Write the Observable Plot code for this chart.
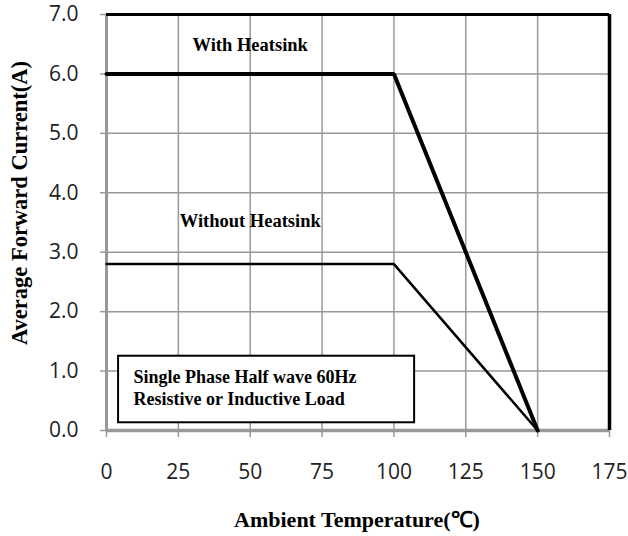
<!DOCTYPE html>
<html><head><meta charset="utf-8">
<script src="https://cdn.jsdelivr.net/npm/d3@7"></script>
<script src="https://cdn.jsdelivr.net/npm/@observablehq/plot@0.6"></script>
<style>
body{margin:0;background:#fff;}
#chart svg{display:block;}
</style>
</head><body><div id="chart"></div>
<script>
const xTicks = [0, 25, 50, 75, 100, 125, 150, 175];
const yTicks = [0, 1, 2, 3, 4, 5, 6, 7];
const withTemp = [0, 100, 150];
const withCurrent = [6.0, 6.0, 0.0];
const withoutTemp = [0, 100, 150];
const withoutCurrent = [2.8, 2.8, 0.0];
const seriesLabels = ["With Heatsink", "Without Heatsink"];
const labelX = [50, 50];
const labelY = [6.48, 3.52];
const noteLines = ["Single Phase Half wave 60Hz", "Resistive or Inductive Load"];
const noteX = [9.4, 9.4];
const noteY = [0.89, 0.53];
const noteBox = [{x1: 4.2, x2: 107.2, y1: 0.13, y2: 1.25}];
const xTitle = "Ambient Temperature(℃)";
const yTitle = "Average Forward Current(A)";

const withData = withTemp.map((t, i) => ({t, c: withCurrent[i]}));
const withoutData = withoutTemp.map((t, i) => ({t, c: withoutCurrent[i]}));
const labels = seriesLabels.map((s, i) => ({s, x: labelX[i], y: labelY[i]}));
const notes = noteLines.map((s, i) => ({s, x: noteX[i], y: noteY[i]}));

const serif = "'Liberation Serif', 'Times New Roman', serif";
const sans = "'Open Sans', 'Noto Sans', sans-serif";

const plot = Plot.plot({
  width: 628,
  height: 536,
  marginLeft: 106,
  marginRight: 19,
  marginTop: 14,
  marginBottom: 106,
  style: {background: "#fff", fontFamily: sans, fontSize: "21px"},
  x: {domain: [0, 175], label: null},
  y: {domain: [0, 7], label: null},
  marks: [
    Plot.gridX(xTicks, {stroke: "#999", strokeOpacity: 1, strokeWidth: 1.5}),
    Plot.gridY(yTicks, {stroke: "#999", strokeOpacity: 1, strokeWidth: 1.5}),
    Plot.axisX({ticks: xTicks, tickSize: 7, tickPadding: 27, fontSize: 21, stroke: "#999", strokeWidth: 1.5, fill: "#222", label: null, tickFormat: d3.format("d")}),
    Plot.axisY({ticks: yTicks, tickSize: 6, tickPadding: 22, fontSize: 21, stroke: "#999", strokeWidth: 1.5, fill: "#222", label: null, tickFormat: d3.format(".1f")}),
    Plot.ruleX([0], {stroke: "#999", strokeWidth: 3}),
    Plot.ruleY([0], {stroke: "#999", strokeWidth: 3.5}),
    Plot.ruleY([7], {stroke: "#000", strokeWidth: 3}),
    Plot.ruleX([175], {stroke: "#000", strokeWidth: 3.5}),
    Plot.rect(noteBox, {x1: "x1", x2: "x2", y1: "y1", y2: "y2", fill: "#fff", stroke: "#000", strokeWidth: 2}),
    Plot.text(notes, {x: "x", y: "y", text: "s", textAnchor: "start", fontFamily: serif, fontWeight: "bold", fontSize: 18, fill: "#000"}),
    Plot.line(withData, {x: "t", y: "c", stroke: "#000", strokeWidth: 4, strokeLinejoin: "miter"}),
    Plot.line(withoutData, {x: "t", y: "c", stroke: "#000", strokeWidth: 2.5, strokeLinejoin: "miter"}),
    Plot.text(labels, {x: "x", y: "y", text: "s", fontFamily: serif, fontWeight: "bold", fontSize: 18.5, fill: "#000"})
  ]
});

const svg = d3.select(plot);
svg.append("text")
  .attr("x", 357)
  .attr("y", 527)
  .attr("text-anchor", "middle")
  .attr("font-family", serif)
  .attr("font-weight", "bold")
  .attr("font-size", 22)
  .text(xTitle);
svg.append("text")
  .attr("transform", "translate(27,203) rotate(-90)")
  .attr("text-anchor", "middle")
  .attr("font-family", serif)
  .attr("font-weight", "bold")
  .attr("font-size", 22.5)
  .text(yTitle);

document.getElementById("chart").appendChild(plot);
</script>
</body></html>
